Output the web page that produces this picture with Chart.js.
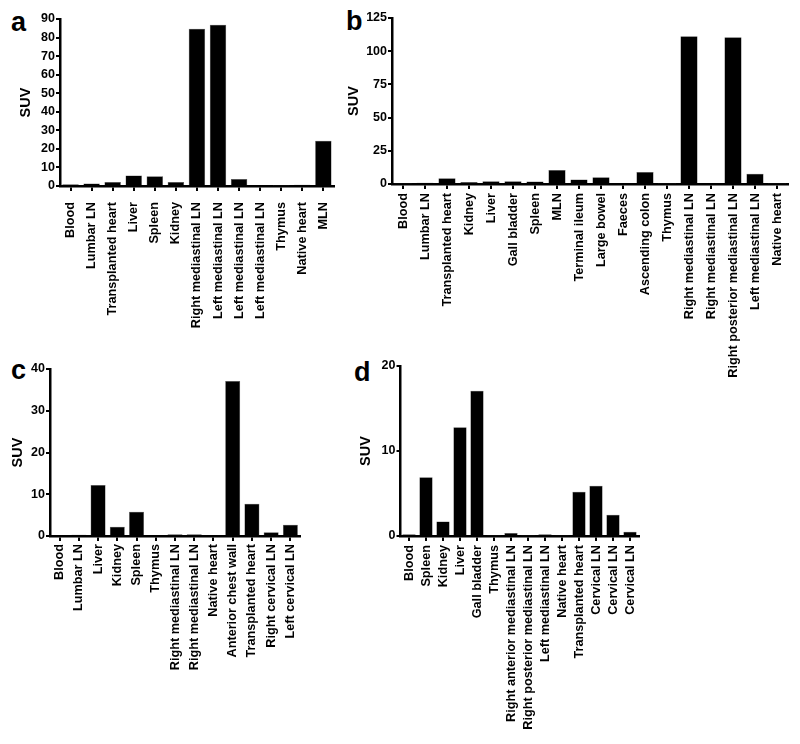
<!DOCTYPE html>
<html lang="en">
  <head>
    <meta charset="UTF-8" />
    <title>SUV by tissue</title>
    <script src="https://cdn.jsdelivr.net/npm/chart.js@4"></script>
    <style>
      body {
        margin: 0;
        background: #fff;
        width: 800px;
        height: 744px;
        position: relative;
        overflow: hidden;
        font-family: "Liberation Sans", Arial, sans-serif;
      }
      canvas {
        position: absolute;
      }
      .letter {
        position: absolute;
        font-weight: bold;
        font-size: 27px;
        line-height: 27px;
        color: #000;
      }
    </style>
  </head>
  <body>
    <div class="letter" style="left: 11px; top: 9px">a</div>
    <div class="letter" style="left: 346px; top: 8px">b</div>
    <div class="letter" style="left: 11px; top: 357px">c</div>
    <div class="letter" style="left: 354px; top: 359px">d</div>

    <canvas id="chartA" width="350" height="350" style="left: 0; top: 0"></canvas>
    <canvas id="chartB" width="460" height="400" style="left: 340px; top: 0"></canvas>
    <canvas id="chartC" width="350" height="389" style="left: 0; top: 355px"></canvas>
    <canvas id="chartD" width="305" height="389" style="left: 345px; top: 355px"></canvas>

    <script>
      // panel a
      const labelsA = [
        "Blood", "Lumbar LN", "Transplanted heart", "Liver", "Spleen", "Kidney",
        "Right mediastinal LN", "Left mediastinal LN", "Left mediastinal LN",
        "Left mediastinal LN", "Thymus", "Native heart", "MLN",
      ];
      const valuesA = [0.9, 1.4, 2.2, 5.7, 5.2, 2.2, 84.8, 86.9, 3.8, 0.4, 0.3, 0.7, 24.4];

      // panel b
      const labelsB = [
        "Blood", "Lumbar LN", "Transplanted heart", "Kidney", "Liver", "Gall bladder",
        "Spleen", "MLN", "Terminal ileum", "Large bowel", "Faeces", "Ascending colon",
        "Thymus", "Right mediastinal LN", "Right mediastinal LN",
        "Right posterior mediastinal LN", "Left mediastinal LN", "Native heart",
      ];
      const valuesB = [0.3, 1.0, 4.3, 1.5, 2.0, 2.0, 1.8, 10.5, 3.3, 5.0, 0.5, 9.0, 0.1, 111.3, 0.8, 110.5, 7.8, 0.1];

      // panel c
      const labelsC = [
        "Blood", "Lumbar LN", "Liver", "Kidney", "Spleen", "Thymus",
        "Right mediastinal LN", "Right mediastinal LN", "Native heart",
        "Anterior chest wall", "Transplanted heart", "Right cervical LN", "Left cervical LN",
      ];
      const valuesC = [0.15, 0.3, 12.2, 2.2, 5.8, 0.15, 0.4, 0.4, 0.15, 37.1, 7.7, 0.9, 2.7];

      // panel d
      const labelsD = [
        "Blood", "Spleen", "Kidney", "Liver", "Gall bladder", "Thymus",
        "Right anterior mediastinal LN", "Right posterior mediastinal LN",
        "Left mediastinal LN", "Native heart", "Transplanted heart",
        "Cervical LN", "Cervical LN", "Cervical LN",
      ];
      const valuesD = [0.2, 6.9, 1.7, 12.8, 17.1, 0.05, 0.35, 0.05, 0.2, 0.1, 5.2, 5.9, 2.5, 0.5];

      // y axis ranges [max, step]
      const yRangeA = [90, 10];
      const yRangeB = [125, 25];
      const yRangeC = [40, 10];
      const yRangeD = [20, 10];

      const fontFam = '"Liberation Sans", Arial, sans-serif';

      function makeChart(id, labels, values, yRange, lay) {
        const ctx = document.getElementById(id).getContext("2d");
        return new Chart(ctx, {
          type: "bar",
          data: {
            labels: labels,
            datasets: [
              {
                data: values,
                backgroundColor: "#000",
                borderColor: "#555",
                borderWidth: 0.5,
                categoryPercentage: 1,
                barPercentage: 0.78,
              },
            ],
          },
          options: {
            responsive: false,
            animation: false,
            layout: { padding: lay.pad },
            plugins: {
              legend: { display: false },
              tooltip: { enabled: false },
            },
            scales: {
              x: {
                type: "category",
                offset: true,
                afterFit: (s) => { s.height = lay.xH; },
                grid: {
                  offset: false,
                  drawOnChartArea: false,
                  drawTicks: true,
                  tickLength: 5,
                  color: "#000",
                  lineWidth: 2,
                },
                border: { display: true, color: "#000", width: 2.5 },
                ticks: {
                  autoSkip: false,
                  minRotation: 90,
                  maxRotation: 90,
                  padding: lay.xPad,
                  color: "#000",
                  font: { size: 12.7, weight: "bold", family: fontFam },
                },
              },
              y: {
                min: 0,
                max: yRange[0],
                afterFit: (s) => { s.width = lay.yW; },
                grid: {
                  drawOnChartArea: false,
                  drawTicks: true,
                  tickLength: 4,
                  color: "#000",
                  lineWidth: 2,
                },
                border: { display: true, color: "#000", width: 2.5 },
                ticks: {
                  stepSize: yRange[1],
                  padding: 1,
                  color: "#000",
                  font: { size: 12.5, weight: "bold", family: fontFam },
                },
                title: {
                  display: true,
                  text: "SUV",
                  color: "#000",
                  font: { size: 14.5, weight: "bold", family: fontFam },
                  padding: { top: lay.tPad, bottom: 0 },
                },
              },
            },
          },
        });
      }

      const chartA = makeChart("chartA", labelsA, valuesA, yRangeA, {
        pad: { left: 10, top: 19, right: 11, bottom: 4 },
        yW: 50, xH: 160, xPad: 11, tPad: 7.3,
      });
      const chartB = makeChart("chartB", labelsB, valuesB, yRangeB, {
        pad: { left: 3, top: 18, right: 12, bottom: 4 },
        yW: 49, xH: 212, xPad: 4, tPad: 2.3,
      });
      const chartC = makeChart("chartC", labelsC, valuesC, yRangeC, {
        pad: { left: 4, top: 14, right: 50, bottom: 4 },
        yW: 46, xH: 204, xPad: 3, tPad: 4.8,
      });
      const chartD = makeChart("chartD", labelsD, valuesD, yRangeD, {
        pad: { left: 6, top: 11, right: 11.5, bottom: 4 },
        yW: 49.5, xH: 204, xPad: 4, tPad: 6.3,
      });
    </script>
  </body>
</html>
